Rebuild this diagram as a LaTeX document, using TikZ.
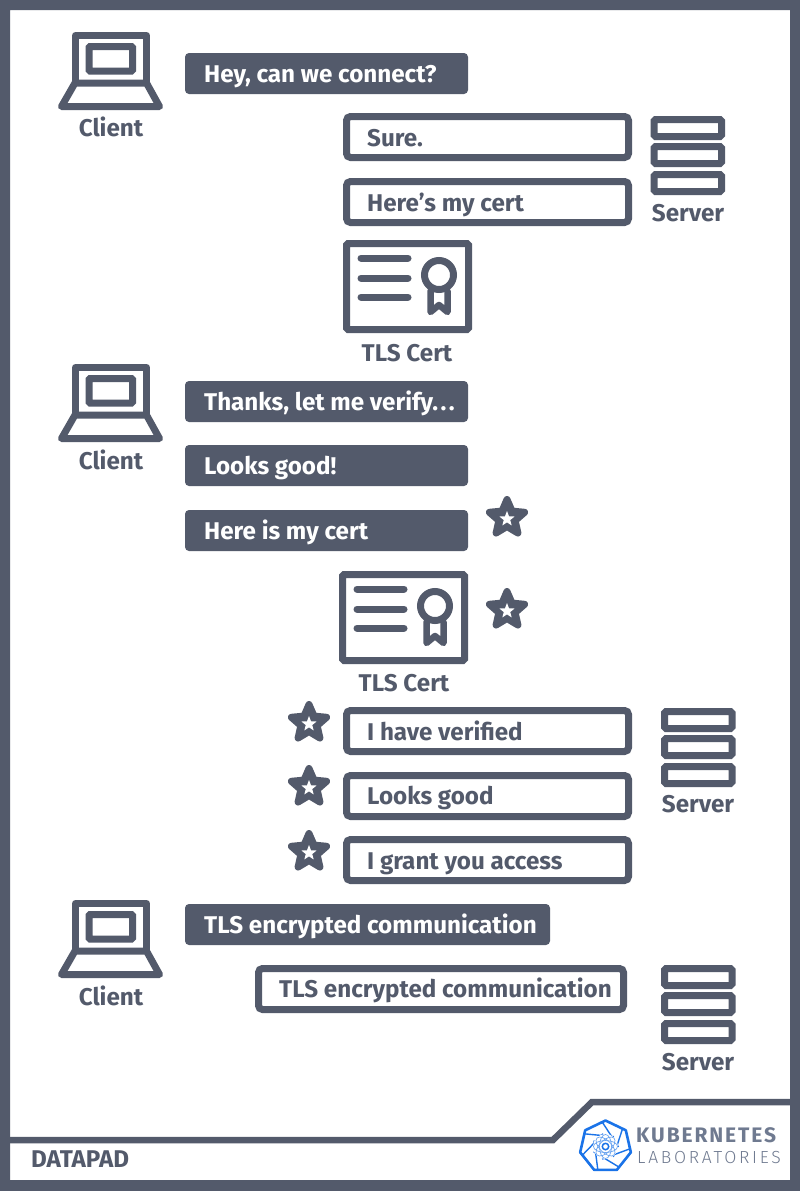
\documentclass[tikz,border=0pt]{standalone}
\usepackage{fontspec}
\setmainfont{Fira Sans}
\newfontfamily\lablight[LetterSpace=15.5]{Fira Sans Light}
\newfontfamily\kubefont[LetterSpace=9]{Fira Sans}
\definecolor{ink}{HTML}{535A6B}
\definecolor{kubegrey}{HTML}{6F7A90}
\definecolor{kubeblue}{HTML}{1A73E8}
\tikzset{
  solidbox/.style={fill=ink,draw=none,rounded corners=4pt,anchor=north west,minimum width=#1,minimum height=41pt,inner sep=0pt,outer sep=0pt},
  linebox/.style={draw=ink,line width=7pt,rounded corners=4pt,anchor=north west,minimum width=#1,minimum height=41pt,inner sep=0pt},
  lighttext/.style={text=white,font=\bfseries\fontsize{24.2}{28}\selectfont,anchor=base west,inner sep=0pt},
  inktext/.style={text=ink,font=\bfseries\fontsize{24.2}{28}\selectfont,anchor=base west,inner sep=0pt},
  caption/.style={text=ink,font=\bfseries\fontsize{24.2}{28}\selectfont,anchor=base,inner sep=0pt},
  laptopicon/.pic={
    \draw[ink,line width=7pt,line join=round] (75.5,83) -- (75.5,35.5) -- (146.5,35.5) -- (146.5,83);
    \draw[ink,line width=7pt,line join=round] (75,83) -- (146.5,83) -- (159.5,106.5) -- (61.5,106.5) -- cycle;
    \draw[ink,line width=7pt,rounded corners=1pt] (89,46.5) rectangle (132.5,71);
  },
  rackicon/.pic={
    \foreach \yy in {119.5,146.5,174.5}
      \draw[ink,line width=7pt,rounded corners=1.5pt] (654,\yy) rectangle (721.5,\yy+17);
  },
  certicon/.pic={
    \draw[ink,line width=7pt,rounded corners=1.5pt] (346.5,243.5) rectangle (468.5,329.5);
    \foreach \yy in {258,278,297}
      \draw[ink,line width=7pt,line cap=round] (361,\yy) -- (408,\yy);
    \draw[ink,line width=7pt] (439,275) circle (14.5);
    \draw[ink,line width=6.5pt,line join=round,line cap=round] (430.5,291) -- (430.5,312) -- (439,305) -- (447.5,312) -- (447.5,291);
  },
  staricon/.pic={
    \filldraw[ink,line width=7pt,line join=round] (0,-18.5) -- (5,-6.9) -- (17.6,-5.7) -- (8.1,2.6) -- (10.9,15) -- (0,8.5) -- (-10.9,15) -- (-8.1,2.6) -- (-17.6,-5.7) -- (-5,-6.9) -- cycle;
    \fill[white] (0,-7) -- (2,-1.75) -- (7.6,-1.47) -- (3.23,2.05) -- (4.7,7.47) -- (0,4.4) -- (-4.7,7.47) -- (-3.23,2.05) -- (-7.6,-1.47) -- (-2,-1.75) -- cycle;
  },
}
\begin{document}
\begin{tikzpicture}[x=1pt,y=-1pt]
\useasboundingbox (0,0) rectangle (800,1191);
\fill[white] (0,0) rectangle (800,1191);
\fill[ink,even odd rule] (0,0) rectangle (800,1191) (10,10) rectangle (790,1180);
\draw[ink,line width=6.5pt] (10,1140) -- (553,1140) -- (592,1102) -- (790,1102);

% icons
\pic at (0,0) {laptopicon};
\pic at (0,332) {laptopicon};
\pic at (0,868) {laptopicon};
\pic at (0,0) {rackicon};
\pic at (10.5,592) {rackicon};
\pic at (10.5,849) {rackicon};
\pic at (0,0) {certicon};
\pic at (-4,331) {certicon};
\pic at (507,518) {staricon};
\pic at (507,610) {staricon};
\pic at (309,723) {staricon};
\pic at (309,787) {staricon};
\pic at (309,852) {staricon};

% captions
\node[caption] (client1) at (111,136) {Client};
\node[caption] (client2) at (111,469) {Client};
\node[caption] (client3) at (111,1005) {Client};
\node[caption] (server1) at (688,221) {Server};
\node[caption] (server2) at (698,812) {Server};
\node[caption] (server3) at (698,1070) {Server};
\node[caption] (cert1) at (407,361) {TLS Cert};
\node[caption] (cert2) at (404,691) {TLS Cert};

% solid boxes
\node[solidbox=283pt] (b1) at (185,53) {};
\node[solidbox=283pt] (b2) at (185,381) {};
\node[solidbox=283pt] (b3) at (185,445) {};
\node[solidbox=283pt] (b4) at (185,510) {};
\node[solidbox=365pt] (b5) at (185,904) {};
\node[lighttext] (t1) at (204,82) {Hey, can we connect?};
\node[lighttext] (t2) at (204,410) {Thanks, let me verify.\kern2.5pt.\kern2.5pt.};
\node[lighttext] (t3) at (204,474) {Looks good!};
\node[lighttext] (t4) at (204,539) {Here is my cert};
\node[lighttext] (t5) at (204,933) {TLS encrypted communication};

% outlined boxes
\node[linebox=282pt] (o1) at (343,113) {};
\node[linebox=282pt] (o2) at (343,178) {};
\node[linebox=282pt] (o3) at (343,707) {};
\node[linebox=282pt] (o4) at (343,772) {};
\node[linebox=282pt] (o5) at (343,836) {};
\node[linebox=365pt] (o6) at (255,965) {};
\node[inktext] (u1) at (367,146) {Sure.};
\node[inktext] (u2) at (367,211) {Here’s my cert};
\node[inktext] (u3) at (367,740) {I have verified};
\node[inktext] (u4) at (367,804) {Looks good};
\node[inktext] (u5) at (367,869) {I grant you access};
\node[inktext] (u6) at (279,997) {TLS encrypted communication};

% footer
\node[inktext] (datapad) at (31,1167) {DATAPAD};
\node[text=kubegrey,font=\kubefont\bfseries\fontsize{21}{24}\selectfont,anchor=base west,inner sep=0pt] (kube) at (636,1142) {KUBERNETES};
\node[text=kubegrey,font=\lablight\fontsize{17.5}{20}\selectfont,anchor=base west,inner sep=0pt] (labs) at (637,1163) {LABORATORIES};

% logo
\begin{scope}[shift={(605.5,1146.5)},kubeblue]
  \draw[line width=2.6pt,line join=round] (-90:26) -- (-38.6:26) -- (12.9:26) -- (64.3:26) -- (115.7:26) -- (167.1:26) -- (218.6:26) -- cycle;
  \foreach \aa in {-90,-38.6,12.9,64.3,115.7,167.1,218.6}
    \draw[line width=1.4pt] (\aa-8:25) -- (\aa+92:13);
  \fill[white] (0,0) circle (12.5);
  \foreach \aa in {0,45,90,135}
    \draw[kubeblue!65,line width=.7pt,rotate=\aa] (0,0) ellipse (12 and 6);
  \fill[white] (0,0) circle (4.5);
  \draw[line width=1.5pt] (0,0) circle (3.2);
\end{scope}
\end{tikzpicture}
\end{document}
